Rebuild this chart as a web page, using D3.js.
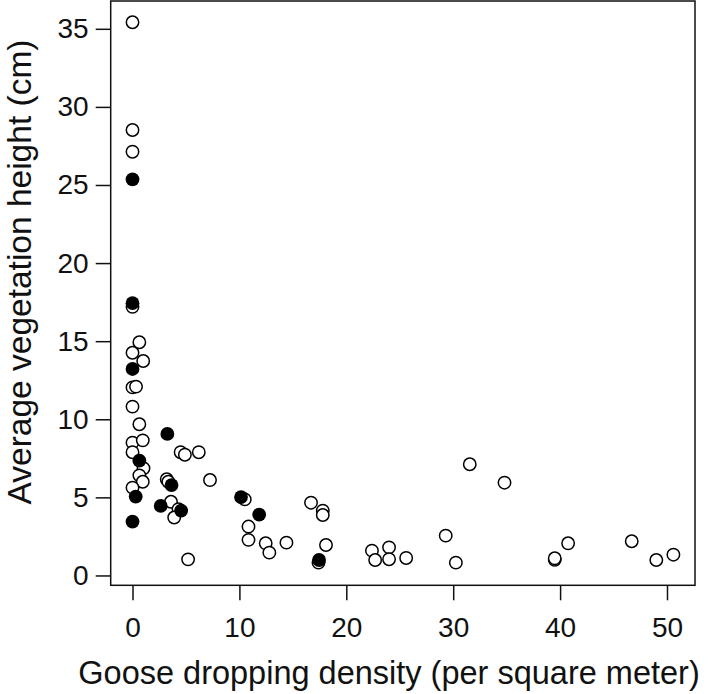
<!DOCTYPE html>
<html>
<head>
<meta charset="utf-8">
<script src="https://cdn.jsdelivr.net/npm/d3@7"></script>
<style>
  body { margin: 0; background: #fff; }
  text { font-family: "Liberation Sans", Arial, sans-serif; fill: #111; }
</style>
</head>
<body>
<svg id="chart" width="709" height="694"></svg>
<script>
// open circles
const openX = [0, 0, 0, 0, 0.64, 0, 1.0, 0, 0.33, 0, 0.64, 0, 0.96, 0, 1.03, 0.64, 0.96, 0,
    4.5, 4.9, 6.2, 3.2, 3.35, 7.25, 3.6, 4.3, 3.9, 5.2, 10.5, 10.85, 10.85, 12.46, 12.8, 14.4,
    16.7, 17.8, 17.8, 18.1, 17.4, 22.4, 22.7, 24.0, 24.0, 25.6, 29.3, 30.25, 31.55, 34.8,
    39.5, 39.5, 40.75, 46.7, 49.0, 50.6];
const openY = [35.42, 28.52, 27.13, 17.2, 14.93, 14.26, 13.73, 12.04, 12.09, 10.81, 9.68, 8.5, 8.65, 7.89, 6.86, 6.41, 6.0, 5.62,
    7.89, 7.73, 7.89, 6.16, 6.0, 6.11, 4.72, 4.25, 3.71, 1.03, 4.87, 3.13, 2.28, 2.06, 1.46, 2.1,
    4.66, 4.15, 3.87, 1.95, 0.82, 1.59, 0.99, 1.8, 1.04, 1.12, 2.55, 0.82, 7.12, 5.94,
    1.0, 1.1, 2.06, 2.19, 0.99, 1.33];

// filled circles
const filledX = [0, 0, 0, 3.26, 0.64, 0.3, 0, 3.65, 2.64, 4.55, 10.15, 11.85, 17.45];
const filledY = [25.36, 17.43, 13.22, 9.06, 7.35, 5.05, 3.45, 5.79, 4.45, 4.15, 5.02, 3.9, 0.99];

const xTicks = [0, 10, 20, 30, 40, 50];
const yTicks = [0, 5, 10, 15, 20, 25, 30, 35];

const svg = d3.select("#chart");

const x = d3.scaleLinear().domain([-2.04, 52.62]).range([110.7, 695]);
const y = d3.scaleLinear().domain([-0.63, 36.78]).range([585.3, 1]);

const xAxis = d3.axisBottom(x).tickValues(xTicks).tickSize(15).tickPadding(17);
const yAxis = d3.axisLeft(y).tickValues(yTicks).tickSize(15).tickPadding(7);

const gx = svg.append("g")
    .attr("transform", `translate(0,${y.range()[0]})`)
    .call(xAxis);
const gy = svg.append("g")
    .attr("transform", `translate(${x.range()[0]},0)`)
    .call(yAxis);

[gx, gy].forEach(g => {
    g.select(".domain").remove();
    g.selectAll(".tick line").attr("stroke", "#111").attr("stroke-width", 1.5);
    g.selectAll(".tick text").style("font-size", "28px");
});

// plot box
svg.append("rect")
    .attr("x", x.range()[0])
    .attr("y", y.range()[1])
    .attr("width", x.range()[1] - x.range()[0])
    .attr("height", y.range()[0] - y.range()[1])
    .attr("fill", "none")
    .attr("stroke", "#111")
    .attr("stroke-width", 1.5);

const openData = openX.map((d, i) => ({ x: d, y: openY[i] }));
const filledData = filledX.map((d, i) => ({ x: d, y: filledY[i] }));

svg.append("g").selectAll("circle")
    .data(openData)
    .enter().append("circle")
    .attr("cx", d => x(d.x))
    .attr("cy", d => y(d.y))
    .attr("r", 6.2)
    .attr("fill", "#fff")
    .attr("stroke", "#000")
    .attr("stroke-width", 1.5);

svg.append("g").selectAll("circle")
    .data(filledData)
    .enter().append("circle")
    .attr("cx", d => x(d.x))
    .attr("cy", d => y(d.y))
    .attr("r", 6.9)
    .attr("fill", "#000");

svg.append("text")
    .attr("x", 389)
    .attr("y", 684)
    .attr("text-anchor", "middle")
    .style("font-size", "32.5px")
    .text("Goose dropping density (per square meter)");

svg.append("text")
    .attr("transform", "rotate(-90)")
    .attr("x", -272)
    .attr("y", 31)
    .attr("text-anchor", "middle")
    .style("font-size", "33.5px")
    .text("Average vegetation height (cm)");
</script>
</body>
</html>
